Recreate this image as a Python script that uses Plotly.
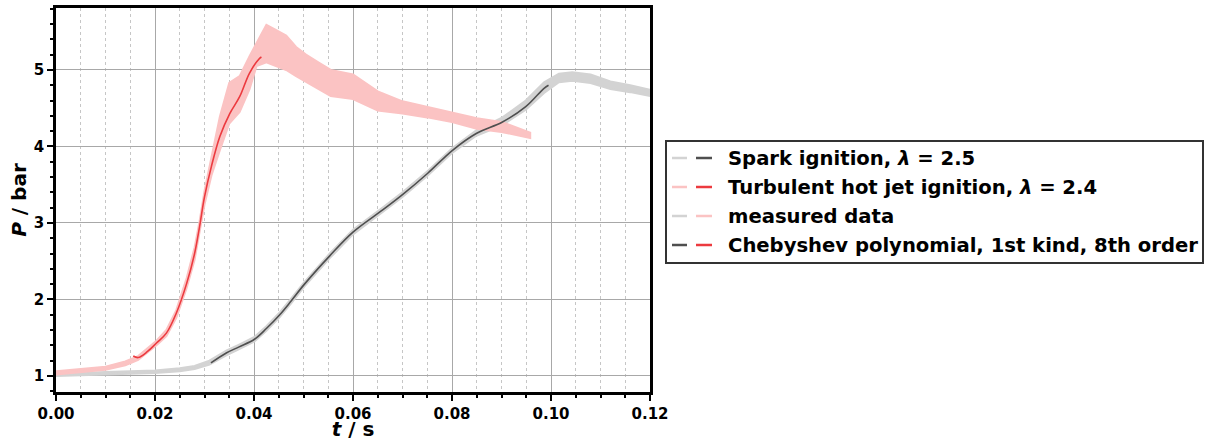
import plotly.graph_objects as go

# ---------------- data ----------------
# Spark ignition, lambda = 2.5 : measured data envelope (low / high)
spark_meas_t = [0.000, 0.005, 0.010, 0.015, 0.020, 0.025, 0.028, 0.031, 0.0344, 0.037, 0.0401,
                0.0425, 0.0452, 0.0475, 0.0502, 0.0553, 0.060, 0.066, 0.070, 0.0751, 0.0801,
                0.0849, 0.0902, 0.0949, 0.0986, 0.1016, 0.1043, 0.108, 0.112, 0.116, 0.120]
spark_meas_lo = [1.00, 1.01, 1.02, 1.03, 1.04, 1.06, 1.09, 1.15, 1.27, 1.35, 1.45,
                 1.59, 1.77, 1.95, 2.17, 2.54, 2.85, 3.14, 3.34, 3.62, 3.92,
                 4.14, 4.28, 4.48, 4.70, 4.84, 4.86, 4.83, 4.75, 4.71, 4.66]
spark_meas_hi = [1.04, 1.04, 1.05, 1.06, 1.07, 1.10, 1.13, 1.20, 1.33, 1.41, 1.51,
                 1.65, 1.83, 2.01, 2.23, 2.60, 2.91, 3.20, 3.40, 3.68, 3.98,
                 4.21, 4.38, 4.60, 4.84, 4.95, 4.97, 4.94, 4.85, 4.80, 4.74]

# Spark ignition : Chebyshev fit
spark_fit_t = [0.0313, 0.0344, 0.037, 0.0401, 0.0425, 0.0452, 0.0475, 0.0502, 0.0553, 0.060,
               0.066, 0.070, 0.0751, 0.0801, 0.0849, 0.0902, 0.0949, 0.0986, 0.0995]
spark_fit_p = [1.17, 1.30, 1.38, 1.48, 1.62, 1.80, 1.98, 2.20, 2.57, 2.88,
               3.17, 3.37, 3.65, 3.95, 4.17, 4.32, 4.52, 4.76, 4.80]

# Turbulent hot jet ignition, lambda = 2.4 : measured data envelope
jet_meas_t = [0.000, 0.005, 0.010, 0.014, 0.0166, 0.0203, 0.0223, 0.0243, 0.0264, 0.028,
              0.029, 0.030, 0.0314, 0.0331, 0.035, 0.0371, 0.0391, 0.0405, 0.0425, 0.0445,
              0.0465, 0.0485, 0.0505, 0.0530, 0.0555, 0.060, 0.065, 0.070, 0.075, 0.080,
              0.085, 0.090, 0.0958]
jet_meas_lo = [1.02, 1.05, 1.08, 1.14, 1.21, 1.40, 1.52, 1.76, 2.15, 2.52,
               2.88, 3.24, 3.62, 3.95, 4.30, 4.45, 4.75, 5.05, 5.10, 5.05,
               5.00, 4.92, 4.85, 4.75, 4.66, 4.62, 4.47, 4.43, 4.38, 4.32,
               4.23, 4.19, 4.11]
jet_meas_hi = [1.06, 1.09, 1.12, 1.19, 1.26, 1.46, 1.60, 1.86, 2.28, 2.68,
               3.02, 3.42, 3.86, 4.39, 4.83, 4.92, 5.18, 5.35, 5.59, 5.52,
               5.45, 5.30, 5.20, 5.10, 5.00, 4.94, 4.72, 4.59, 4.52, 4.45,
               4.37, 4.32, 4.18]

# Turbulent hot jet ignition : Chebyshev fit
jet_fit_t = [0.0156, 0.0166, 0.0185, 0.0203, 0.0223, 0.0243, 0.0264, 0.028, 0.029, 0.030,
             0.0314, 0.0331, 0.0351, 0.0371, 0.0391, 0.0411, 0.0415]
jet_fit_p = [1.26, 1.24, 1.32, 1.43, 1.56, 1.82, 2.21, 2.60, 2.95, 3.34,
             3.74, 4.13, 4.43, 4.65, 4.96, 5.15, 5.17]

legend_labels = ["Spark ignition, <i>λ</i> = 2.5",
                 "Turbulent hot jet ignition, <i>λ</i> = 2.4",
                 "measured data",
                 "Chebyshev polynomial, 1st kind, 8th order"]

# ---------------- styles ----------------
C_GRAY_L = "#d3d3d3"
C_GRAY_D = "#4f4f4f"
C_RED_L = "#fbc3c3"
C_RED_D = "#ec3a3f"
FONT = "DejaVu Sans"

fig = go.Figure()


def band(t, lo, hi, color):
    return go.Scatter(x=list(t) + list(t)[::-1], y=list(hi) + list(lo)[::-1],
                      mode="lines", fill="toself", fillcolor=color,
                      line=dict(color=color, width=2), hoverinfo="skip", showlegend=False)


fig.add_trace(band(spark_meas_t, spark_meas_lo, spark_meas_hi, C_GRAY_L))
fig.add_trace(band(jet_meas_t, jet_meas_lo, jet_meas_hi, C_RED_L))
fig.add_trace(go.Scatter(x=spark_fit_t, y=spark_fit_p, mode="lines",
                         line=dict(color=C_GRAY_D, width=1.6, shape="spline"), showlegend=False))
fig.add_trace(go.Scatter(x=jet_fit_t, y=jet_fit_p, mode="lines",
                         line=dict(color=C_RED_D, width=1.6, shape="spline"), showlegend=False))

# ---------------- axes ----------------
W, H = 1206, 441
L, R, T, B = 56, 650, 8, 392
pw, ph = R - L, B - T

axis_common = dict(showline=True, linecolor="black", linewidth=2.5, mirror=True,
                   ticks="outside", ticklen=6, tickwidth=2, tickcolor="black",
                   zeroline=False, showgrid=True, gridcolor="#a8a8a8", gridwidth=1.2,
                   tickfont=dict(family=FONT, size=15, color="black", weight="bold"))

fig.update_xaxes(range=[0, 0.12], dtick=0.02, tick0=0, tickformat=".2f",
                 minor=dict(dtick=0.005, tick0=0, ticks="outside", ticklen=3.5, tickwidth=1.6,
                            tickcolor="black", showgrid=True, gridcolor="#c6c6c6",
                            gridwidth=0.8, griddash="dot"),
                 title=dict(text="<b><i>t</i> / s</b>", standoff=5,
                            font=dict(family=FONT, size=20, color="black")),
                 **axis_common)
fig.update_yaxes(range=[0.79, 5.81], dtick=1, tick0=0, tickformat="d",
                 minor=dict(dtick=0.2, tick0=0, ticks="outside", ticklen=3.5, tickwidth=1.6,
                            tickcolor="black", showgrid=False),
                 title=dict(text="<b><i>P</i> / bar</b>", standoff=2,
                            font=dict(family=FONT, size=20, color="black")),
                 **axis_common)

# ---------------- manual legend (two handles per entry) ----------------
def px_x(x):
    return (x - L) / pw


def px_y(y):
    return (B - y) / ph


shapes = [dict(type="rect", xref="paper", yref="paper",
               x0=px_x(666), x1=px_x(1203), y0=px_y(263), y1=px_y(141),
               line=dict(color="#333333", width=2), fillcolor="white", layer="above")]
rows = [158, 187, 216, 245]
handles = [(C_GRAY_L, C_GRAY_D), (C_RED_L, C_RED_D), (C_GRAY_L, C_RED_L), (C_GRAY_D, C_RED_D)]
for yrow, (c1, c2) in zip(rows, handles):
    shapes.append(dict(type="line", xref="paper", yref="paper",
                       x0=px_x(672), x1=px_x(687), y0=px_y(yrow), y1=px_y(yrow),
                       line=dict(color=c1, width=2.5), layer="above"))
    shapes.append(dict(type="line", xref="paper", yref="paper",
                       x0=px_x(696), x1=px_x(712), y0=px_y(yrow), y1=px_y(yrow),
                       line=dict(color=c2, width=2.5), layer="above"))

annotations = []
for yrow, lab in zip(rows, legend_labels):
    annotations.append(dict(xref="paper", yref="paper", x=px_x(726), y=px_y(yrow),
                            xanchor="left", yanchor="middle", showarrow=False,
                            text="<b>" + lab + "</b>",
                            font=dict(family=FONT, size=19.6, color="black")))

fig.update_layout(width=W, height=H, margin=dict(l=L, r=W - R, t=T, b=H - B, autoexpand=False),
                  paper_bgcolor="white", plot_bgcolor="white", showlegend=False,
                  shapes=shapes, annotations=annotations)

fig.write_html("out.html", config={"displayModeBar": False},
               post_script="document.body.style.margin='0px';")
